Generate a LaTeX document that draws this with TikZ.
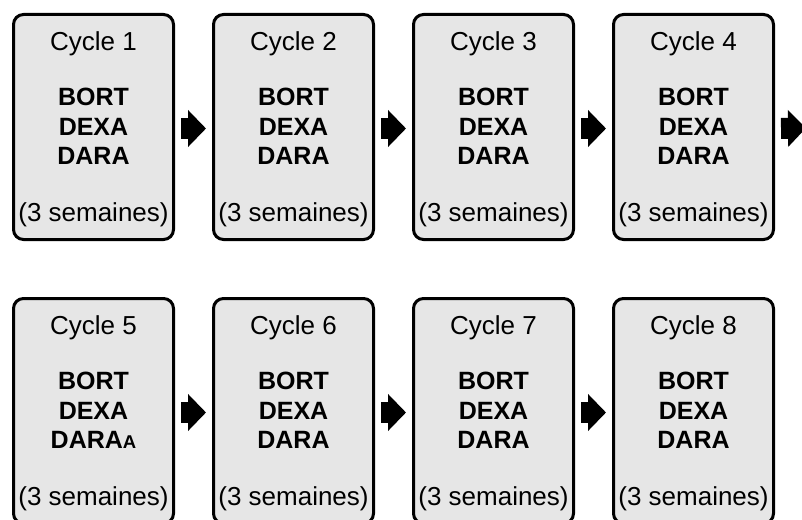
\documentclass[tikz,border=0pt]{standalone}
\usepackage{fontspec}
\setmainfont{Liberation Sans}
\usetikzlibrary{arrows.meta,calc}
\definecolor{boxgray}{HTML}{E6E6E6}
\begin{document}
\begin{tikzpicture}[x=1pt,y=-1pt,
  cyclebox/.style={draw=black, fill=boxgray, line width=3pt, rounded corners=10pt,
    minimum width=160pt, minimum height=225pt, inner sep=0pt, anchor=north west},
  txt/.style={anchor=base, inner sep=0pt, font=\fontsize{26}{30}\selectfont},
  drug/.style={anchor=base, inner sep=0pt, font=\fontsize{25}{30}\selectfont\bfseries},
  blockarrow/.style={line width=21pt, -{Triangle[length=18pt,width=36pt]},
    shorten <=6pt, shorten >=6pt}
]
\useasboundingbox (0,0) rectangle (802,519);
\clip (0,0) rectangle (802,519);

\foreach \i [evaluate=\i as \col using {int(mod(\i-1,4))},
             evaluate=\i as \row using {int((\i-1)/4)}] in {1,...,8} {
  \pgfmathsetmacro{\bx}{12+200*\col}
  \pgfmathsetmacro{\by}{13+284*\row}
  \node[cyclebox] (b\i) at (\bx,\by) {};
  \node[txt]  (c\i) at ($(b\i.north)+(0,37)$) {Cycle \i};
  \node[drug] (d1\i) at ($(b\i.north)+(0,92)$) {BORT};
  \node[drug] (d2\i) at ($(b\i.north)+(0,122)$) {DEXA};
  \node[txt]  (s\i) at ($(b\i.north)+(0,208.5)$) {(3 semaines)};
}
\foreach \i in {1,2,3,4,6,7,8}
  \node[drug] (d3\i) at ($(b\i.north)+(0,151)$) {DARA};
\node[drug] (d35) at ($(b5.north)+(0,151)$) {DARA{\fontsize{18.5}{20}\selectfont A}};

\coordinate (out) at (812,128);
\draw[blockarrow] ([yshift=-1.5pt]b1.east) -- ([yshift=-1.5pt]b2.west);
\draw[blockarrow] ([yshift=-1.5pt]b2.east) -- ([yshift=-1.5pt]b3.west);
\draw[blockarrow] ([yshift=-1.5pt]b3.east) -- ([yshift=-1.5pt]b4.west);
\draw[blockarrow] ([yshift=-1.5pt]b4.east) -- (out);
\draw[blockarrow] ([yshift=-1.5pt]b5.east) -- ([yshift=-1.5pt]b6.west);
\draw[blockarrow] ([yshift=-1.5pt]b6.east) -- ([yshift=-1.5pt]b7.west);
\draw[blockarrow] ([yshift=-1.5pt]b7.east) -- ([yshift=-1.5pt]b8.west);
\end{tikzpicture}
\end{document}
